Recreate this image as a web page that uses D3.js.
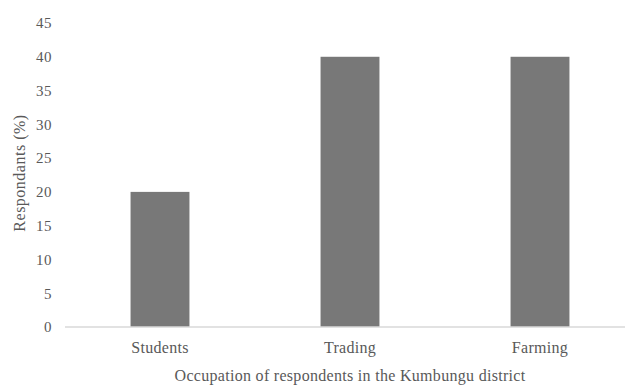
<!DOCTYPE html>
<html>
<head>
<meta charset="utf-8">
<script src="https://cdn.jsdelivr.net/npm/d3@7"></script>
<style>
  body { margin: 0; background: #fff; }
</style>
</head>
<body>
<div id="chart"></div>
<script>
const categories = ["Students", "Trading", "Farming"];
const values = [20, 40, 40];
const yTicks = [0, 5, 10, 15, 20, 25, 30, 35, 40, 45];

const width = 625, height = 385;
const margin = { top: 23, left: 65, bottom: 58 };
const plotBottom = height - margin.bottom; // 327
const serif = "'Liberation Serif', 'Times New Roman', serif";

const svg = d3.select("#chart").append("svg")
    .attr("width", width)
    .attr("height", height);

// Scales
const x = d3.scaleBand()
    .domain(categories)
    .range([margin.left, 635])
    .paddingInner(0.69)
    .paddingOuter(0.345);

const y = d3.scaleLinear()
    .domain([0, 45])
    .range([plotBottom, margin.top]);

// Y tick labels (no axis line)
const yAxis = d3.axisLeft(y).tickValues(yTicks).tickSize(0).tickPadding(0);
svg.append("g")
    .attr("transform", "translate(52,0)")
    .call(yAxis)
    .call(g => g.select(".domain").remove())
    .selectAll("text")
    .attr("fill", "#595959")
    .style("font-family", serif)
    .style("font-size", "15px")
    .style("letter-spacing", "0.5px");

// Bars
svg.selectAll(".bar")
    .data(values)
    .enter().append("rect")
    .attr("class", "bar")
    .attr("x", (d, i) => x(categories[i]))
    .attr("y", d => y(d))
    .attr("width", x.bandwidth())
    .attr("height", d => plotBottom - y(d))
    .attr("fill", "#787878");

// X axis
const xAxis = d3.axisBottom(x).tickSize(0).tickPadding(15);
svg.append("g")
    .attr("transform", `translate(0,${plotBottom})`)
    .call(xAxis)
    .call(g => g.select(".domain")
        .attr("stroke", "#d9d9d9")
        .attr("stroke-width", 1.5)
        .attr("d", `M${margin.left},0H635`))
    .selectAll("text")
    .attr("fill", "#595959")
    .style("font-family", serif)
    .style("font-size", "16px")
    .style("letter-spacing", "0.3px");

// Axis titles
svg.append("text")
    .attr("x", 350)
    .attr("y", 381)
    .attr("text-anchor", "middle")
    .attr("fill", "#595959")
    .style("font-family", serif)
    .style("font-size", "16px")
    .style("letter-spacing", "0.3px")
    .text("Occupation of respondents in the Kumbungu district");

svg.append("text")
    .attr("transform", "translate(25,173) rotate(-90)")
    .attr("text-anchor", "middle")
    .attr("fill", "#595959")
    .style("font-family", serif)
    .style("font-size", "16px")
    .style("letter-spacing", "0.5px")
    .text("Respondants (%)");
</script>
</body>
</html>
